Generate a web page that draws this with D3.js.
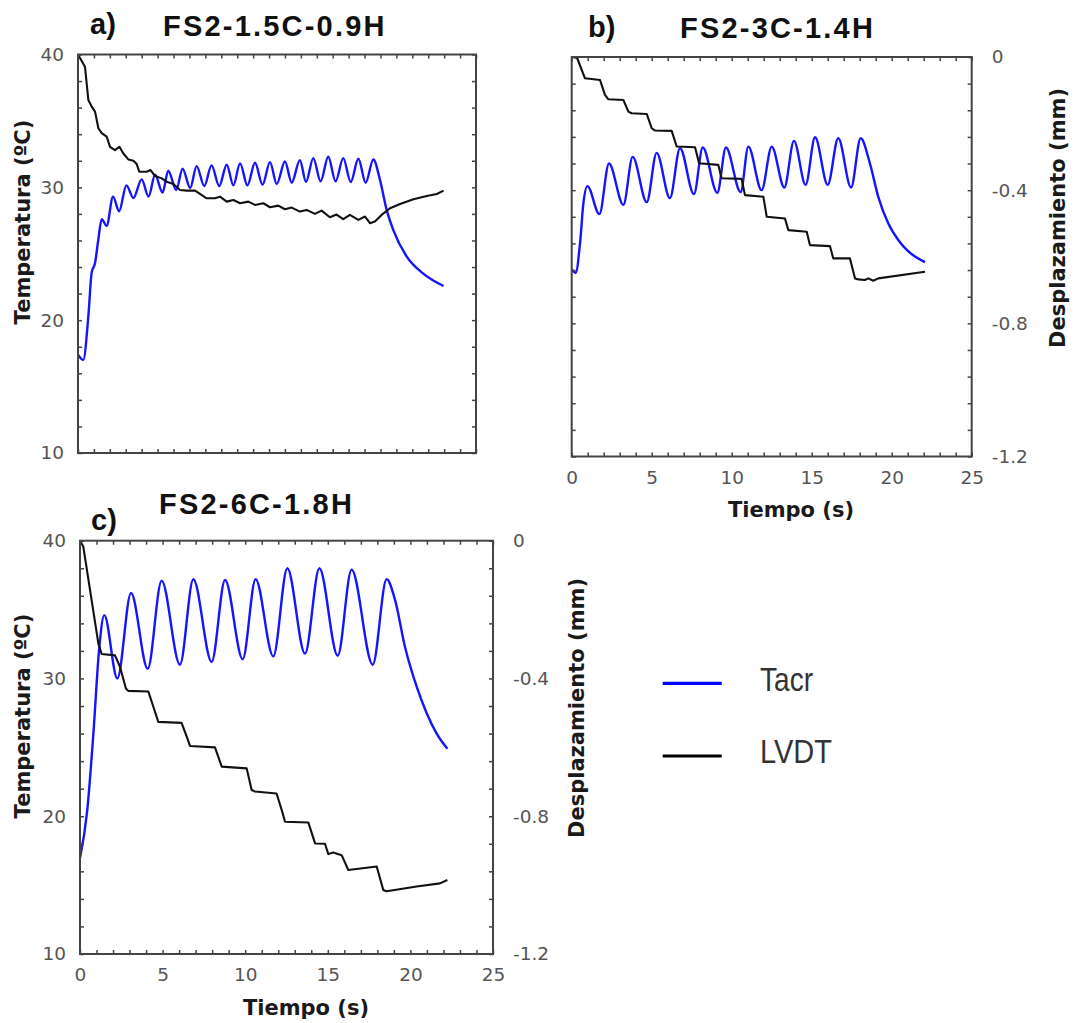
<!DOCTYPE html>
<html>
<head>
<meta charset="utf-8">
<script src="https://cdn.jsdelivr.net/npm/d3@7.9.0/dist/d3.min.js"></script>
<style>
  body { margin: 0; background: #fff; }
  svg { display: block; }
</style>
</head>
<body>
<svg id="chart" width="1080" height="1023"></svg>
<script>
// Time ticks (s) and axis tick values
const timeTicks = d3.range(0, 26, 1);
const tempTicks = d3.range(10, 41, 2);
const dispTicks = d3.range(16).map((i) => -i * 0.08);
const dispLabels = ["0", "-0.4", "-0.8", "-1.2"];

// a) FS2-1.5C-0.9H  [tiempo s, Tacr ºC]
const tacrA = [
  [0, 17.4], [0.33, 17.0], [0.65, 20.3], [0.86, 23.6], [1.07, 24.3], [1.28, 26.1],
  [1.49, 27.6], [1.8, 27.1], [2.2, 29.3], [2.58, 28.2], [3.04, 30.15], [3.48, 29.2],
  [4.0, 30.6], [4.43, 29.3], [4.84, 30.95], [5.31, 29.6], [5.67, 31.25], [6.17, 29.8],
  [6.57, 31.4], [7.05, 29.95], [7.45, 31.6], [7.93, 30.1], [8.39, 31.65], [8.87, 30.1],
  [9.34, 31.7], [9.76, 30.15], [10.18, 31.8], [10.64, 30.15], [11.12, 31.85], [11.59, 30.2],
  [12.06, 31.9], [12.48, 30.25], [13.0, 31.95], [13.42, 30.35], [13.94, 32.05], [14.32, 30.4],
  [14.78, 32.2], [15.24, 30.45], [15.72, 32.3], [16.18, 30.45], [16.66, 32.2], [17.13, 30.4],
  [17.61, 32.15], [18.07, 30.35], [18.55, 32.1], [18.97, 30.55], [19.39, 28.3], [19.8, 26.8],
  [20.64, 24.8], [21.69, 23.5], [22.96, 22.57]
];
// a) LVDT [tiempo s, desplazamiento mm]
const lvdtA = [
  [0, 0], [0.44, -0.037], [0.65, -0.137], [0.86, -0.157], [1.07, -0.172], [1.28, -0.222],
  [1.49, -0.237], [1.8, -0.247], [2.01, -0.278], [2.32, -0.288], [2.6, -0.278], [2.85, -0.298],
  [3.16, -0.316], [3.48, -0.32], [3.69, -0.33], [3.85, -0.353], [4.31, -0.353], [4.56, -0.348],
  [4.84, -0.366], [5.26, -0.373], [5.57, -0.383], [5.99, -0.39], [6.41, -0.408], [6.83, -0.41],
  [7.35, -0.41], [7.66, -0.42], [8.08, -0.433], [8.6, -0.433], [8.92, -0.428], [9.34, -0.443],
  [9.76, -0.438], [10.18, -0.448], [10.7, -0.443], [11.12, -0.453], [11.64, -0.448], [12.06, -0.46],
  [12.58, -0.455], [13.0, -0.466], [13.42, -0.461], [13.94, -0.473], [14.36, -0.468], [14.88, -0.48],
  [15.3, -0.47], [15.82, -0.49], [16.24, -0.482], [16.66, -0.496], [17.08, -0.483], [17.61, -0.498],
  [18.03, -0.488], [18.34, -0.508], [18.65, -0.503], [19.07, -0.483], [19.6, -0.463], [20.23, -0.45],
  [21.07, -0.436], [21.91, -0.426], [22.54, -0.42], [22.96, -0.41]
];

// b) FS2-3C-1.4H
const tacrB = [
  [0, 24.06], [0.25, 23.8], [0.52, 26.0], [0.73, 29.0], [0.98, 30.3], [1.73, 28.2],
  [2.33, 32.0], [3.23, 28.9], [3.81, 32.5], [4.69, 29.1], [5.31, 32.8], [6.14, 29.4],
  [6.77, 33.15], [7.64, 29.7], [8.19, 33.2], [9.1, 29.8], [9.64, 33.2], [10.56, 29.85],
  [11.04, 33.27], [11.87, 30.0], [12.5, 33.27], [13.29, 30.2], [13.89, 33.7], [14.62, 30.4],
  [15.21, 33.97], [16.0, 30.4], [16.66, 33.9], [17.46, 30.2], [18.06, 33.9], [18.64, 32.0],
  [19.16, 29.5], [19.79, 27.5], [20.41, 26.26], [21.04, 25.4], [22.08, 24.6]
];
const lvdtB = [
  [0, 0], [0.1, 0], [0.34, -0.003], [0.83, -0.064], [1.77, -0.069], [2.08, -0.114],
  [2.29, -0.127], [3.23, -0.129], [3.54, -0.164], [3.75, -0.169], [4.69, -0.171], [5.0, -0.214],
  [5.21, -0.221], [6.25, -0.222], [6.56, -0.269], [7.71, -0.271], [7.96, -0.319], [9.16, -0.324],
  [9.37, -0.364], [10.62, -0.366], [10.83, -0.415], [11.98, -0.42], [12.19, -0.48], [13.33, -0.485],
  [13.54, -0.52], [14.69, -0.525], [14.89, -0.565], [16.14, -0.568], [16.35, -0.605], [17.39, -0.605],
  [17.71, -0.665], [17.92, -0.668], [18.33, -0.67], [18.54, -0.665], [18.85, -0.672], [19.16, -0.665],
  [22.08, -0.645]
];

// c) FS2-6C-1.8H
const tacrC = [
  [0, 16.95], [0.44, 20.45], [0.81, 26.0], [1.17, 32.3], [1.47, 34.6], [2.26, 30.0],
  [3.09, 36.2], [4.1, 30.7], [4.94, 37.1], [6.05, 31.0], [6.86, 37.2], [7.97, 31.2],
  [8.78, 37.15], [9.85, 31.4], [10.63, 37.2], [11.7, 31.6], [12.55, 38.0], [13.62, 31.8],
  [14.49, 38.0], [15.6, 31.65], [16.44, 37.9], [17.72, 31.0], [18.56, 37.2], [19.07, 35.7],
  [19.67, 32.3], [20.38, 29.4], [20.98, 27.5], [21.59, 26.0], [22.24, 24.9]
];
const lvdtC = [
  [0, 0], [0.2, -0.017], [1.11, -0.298], [1.31, -0.329], [2.12, -0.333], [2.42, -0.366],
  [2.78, -0.429], [2.92, -0.436], [4.14, -0.438], [4.44, -0.482], [4.74, -0.526], [6.15, -0.529],
  [6.46, -0.569], [6.66, -0.596], [8.17, -0.6], [8.58, -0.656], [10.09, -0.661], [10.39, -0.724],
  [10.59, -0.728], [11.9, -0.734], [12.21, -0.782], [12.41, -0.816], [13.82, -0.818], [14.23, -0.879],
  [14.83, -0.88], [15.03, -0.91], [15.33, -0.905], [15.84, -0.913], [16.24, -0.956], [17.96, -0.946],
  [18.36, -1.014], [18.56, -1.018], [20.38, -1.004], [21.79, -0.995], [22.24, -0.985]
];

const seriesNames = ["Tacr", "LVDT"];
const seriesColors = ["#1414ff", "#111"];
const legendColors = ["#0000ff", "#000"];

// panel layout
const panels = [
  { tag: "a)", title: "FS2-1.5C-0.9H", tacr: tacrA, lvdt: lvdtA,
    x0: 78, x1: 476, y0: 54.5, y1: 453,
    tagPos: [90, 34], titlePos: [163, 36],
    leftLabels: true, rightLabels: false, bottomLabels: false,
    leftTitle: [30, 222] },
  { tag: "b)", title: "FS2-3C-1.4H", tacr: tacrB, lvdt: lvdtB,
    x0: 571.7, x1: 971.7, y0: 57, y1: 456.5,
    tagPos: [588, 37], titlePos: [680, 38],
    leftLabels: false, rightLabels: true, bottomLabels: true,
    rightTitle: [1065, 218], bottomTitle: [791, 517] },
  { tag: "c)", title: "FS2-6C-1.8H", tacr: tacrC, lvdt: lvdtC,
    x0: 80, x1: 493, y0: 540.7, y1: 954,
    tagPos: [91, 530], titlePos: [159, 514],
    leftLabels: true, rightLabels: true, bottomLabels: true,
    leftTitle: [30, 716], rightTitle: [584, 708], bottomTitle: [306, 1015] }
];

const svg = d3.select("#chart");
svg.append("rect").attr("width", 1080).attr("height", 1023).attr("fill", "#fff");

const axisColor = "#444";
const labelColor = "#555";
const tickFont = "'DejaVu Sans', Verdana, sans-serif";

function styleAxis(sel) {
  sel.select(".domain").remove();
  sel.selectAll(".tick line").attr("stroke", axisColor).attr("stroke-width", 1.5);
  sel.selectAll(".tick text")
    .attr("fill", labelColor)
    .attr("font-family", tickFont)
    .attr("font-size", 18.5);
}

function drawPanel(p) {
  const g = svg.append("g");
  const x = d3.scaleLinear().domain([0, 25]).range([p.x0, p.x1]);
  const yT = d3.scaleLinear().domain([10, 40]).range([p.y1, p.y0]);
  const yD = d3.scaleLinear().domain([-1.2, 0]).range([p.y1, p.y0]);

  const tLine = d3.line().x((d) => x(d[0])).y((d) => yT(d[1])).curve(d3.curveMonotoneX);
  const dLine = d3.line().x((d) => x(d[0])).y((d) => yD(d[1])).curve(d3.curveLinear);

  g.append("path").datum(p.tacr)
    .attr("d", tLine)
    .attr("fill", "none")
    .attr("stroke", seriesColors[0])
    .attr("stroke-width", 2.4)
    .attr("stroke-linejoin", "round");

  g.append("path").datum(p.lvdt)
    .attr("d", dLine)
    .attr("fill", "none")
    .attr("stroke", seriesColors[1])
    .attr("stroke-width", 2.1)
    .attr("stroke-linejoin", "round");

  // axes, ticks inward
  g.append("g")
    .attr("transform", `translate(0,${p.y1})`)
    .call(d3.axisBottom(x).tickValues(timeTicks).tickSize(-4).tickPadding(14)
      .tickFormat((d) => (p.bottomLabels && d % 5 === 0 ? d : "")))
    .call(styleAxis);

  g.append("g")
    .attr("transform", `translate(0,${p.y0})`)
    .call(d3.axisTop(x).tickValues(timeTicks).tickSize(-4).tickFormat(""))
    .call(styleAxis);

  g.append("g")
    .attr("transform", `translate(${p.x0},0)`)
    .call(d3.axisLeft(yT).tickValues(tempTicks).tickSize(-4).tickPadding(14)
      .tickFormat((d) => (p.leftLabels && d % 10 === 0 ? d : "")))
    .call(styleAxis);

  g.append("g")
    .attr("transform", `translate(${p.x1},0)`)
    .call(d3.axisRight(yD).tickValues(dispTicks).tickSize(-4).tickPadding(20)
      .tickFormat((d, i) => (p.rightLabels && i % 5 === 0 ? dispLabels[i / 5] : "")))
    .call(styleAxis);

  g.append("rect")
    .attr("x", p.x0).attr("y", p.y0)
    .attr("width", p.x1 - p.x0).attr("height", p.y1 - p.y0)
    .attr("fill", "none")
    .attr("stroke", axisColor)
    .attr("stroke-width", 2);

  // titles
  const titleFont = "'Liberation Sans', Arial, sans-serif";
  g.append("text")
    .attr("x", p.tagPos[0]).attr("y", p.tagPos[1])
    .attr("font-family", titleFont).attr("font-weight", "bold").attr("font-size", 29)
    .attr("fill", "#111")
    .text(p.tag);
  g.append("text")
    .attr("x", p.titlePos[0]).attr("y", p.titlePos[1])
    .attr("font-family", titleFont).attr("font-weight", "bold").attr("font-size", 29)
    .attr("letter-spacing", 2.2)
    .attr("fill", "#111")
    .text(p.title);

  const axTitle = (pos, txt, rot) => {
    g.append("text")
      .attr("transform", `translate(${pos[0]},${pos[1]})` + (rot ? " rotate(-90)" : ""))
      .attr("text-anchor", "middle")
      .attr("font-family", tickFont)
      .attr("font-weight", "bold")
      .attr("font-size", 21)
      .attr("fill", "#1a1a1a")
      .text(txt);
  };
  if (p.leftTitle) axTitle(p.leftTitle, "Temperatura (ºC)", true);
  if (p.rightTitle) axTitle(p.rightTitle, "Desplazamiento (mm)", true);
  if (p.bottomTitle) axTitle(p.bottomTitle, "Tiempo (s)", false);
}

panels.forEach(drawPanel);

// Legend
const legendY = [683.3, 756];
const legendTextY = [690.7, 762.7];
const legendTextW = [53, 72];
const legend = svg.append("g");
seriesNames.forEach((name, i) => {
  legend.append("line")
    .attr("x1", 662.7).attr("x2", 721.7)
    .attr("y1", legendY[i]).attr("y2", legendY[i])
    .attr("stroke", legendColors[i])
    .attr("stroke-width", 3.2);
  legend.append("text")
    .attr("x", 760).attr("y", legendTextY[i])
    .attr("font-family", "'Liberation Sans Narrow', 'Liberation Sans', Arial, sans-serif")
    .attr("font-size", 34)
    .attr("textLength", legendTextW[i])
    .attr("lengthAdjust", "spacingAndGlyphs")
    .attr("fill", "#333")
    .text(name);
});
</script>
</body>
</html>
